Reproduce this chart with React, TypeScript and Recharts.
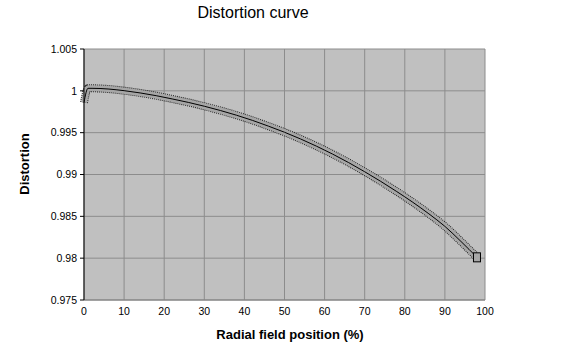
import { LineChart, Line, XAxis, YAxis, CartesianGrid } from 'recharts';

// radial field position (%) and measured distortion
const positions = [0, 1, 2, 4, 6, 8, 10, 14, 18, 22, 26, 30, 34, 38, 42, 46, 50, 54, 58, 62, 66, 70, 74, 78, 82, 86, 90, 94, 98];
const distortion = [
  0.9986, 1.0003, 1.0003, 1.00028, 1.00022, 1.00013, 1.00002, 0.99975, 0.99942, 0.99903,
  0.99862, 0.99816, 0.99765, 0.99709, 0.99647, 0.99578, 0.99505, 0.99425, 0.99338, 0.99244,
  0.99142, 0.99033, 0.98918, 0.98796, 0.98668, 0.9853, 0.9838, 0.982, 0.9801,
];
const xTicks = [0, 10, 20, 30, 40, 50, 60, 70, 80, 90, 100];
const yTicks = [0.975, 0.98, 0.985, 0.99, 0.995, 1, 1.005];

const data = positions.map((x, i) => ({ x, d: distortion[i] }));

const font = "Arial, 'Liberation Sans', sans-serif";

// square marker at the end of the curve
const EndDot = (props: any) => {
  const { cx, cy, index } = props;
  if (index !== data.length - 1) return <g key={index} />;
  return <rect key={index} x={cx - 3.5} y={cy - 4.5} width={7} height={9} fill="#a8a8a8" stroke="#000" strokeWidth={1} />;
};

export default function App() {
  return (
    <div style={{ position: 'fixed', left: 0, top: 0, width: 580, height: 352, background: '#fff', fontFamily: font }}>
      <div style={{ position: 'absolute', left: 0, width: 506, top: 4, textAlign: 'center', fontSize: 16, color: '#000' }}>
        Distortion curve
      </div>
      <div
        style={{
          position: 'absolute', left: 24, top: 164, transform: 'translate(-50%, -50%) rotate(-90deg)',
          fontSize: 13, fontWeight: 'bold', whiteSpace: 'nowrap',
        }}
      >
        Distortion
      </div>
      <div style={{ position: 'absolute', left: 290, top: 334, transform: 'translate(-50%, -50%)', fontSize: 13, fontWeight: 'bold', whiteSpace: 'nowrap' }}>
        Radial field position (%)
      </div>
      <LineChart
        width={580}
        height={352}
        data={data}
        margin={{ top: 49, right: 95, left: 24, bottom: 32 }}
        style={{ position: 'absolute', left: 0, top: 0 }}
      >
        <CartesianGrid stroke="#8c8c8c" fill="#c0c0c0" strokeWidth={1} />
        <XAxis
          dataKey="x"
          type="number"
          domain={[0, 100]}
          ticks={xTicks}
          interval={0}
          tickLine={false}
          axisLine={{ stroke: '#808080' }}
          tick={{ fill: '#000', fontSize: 10.5, fontFamily: font }}
          height={20}
          tickMargin={2}
        />
        <YAxis
          type="number"
          domain={[0.975, 1.005]}
          ticks={yTicks}
          interval={0}
          width={60}
          axisLine={{ stroke: '#000' }}
          tickLine={{ stroke: '#000' }}
          tickSize={4}
          tick={{ fill: '#000', fontSize: 10.5, fontFamily: font }}
          tickMargin={3}
          allowDataOverflow
        />
        <Line dataKey="d" type="monotone" stroke="#222" strokeWidth={8} strokeDasharray="1 1" dot={false} isAnimationActive={false} />
        <Line dataKey="d" type="monotone" stroke="#a6a6a6" strokeWidth={6} dot={false} isAnimationActive={false} />
        <Line dataKey="d" type="monotone" stroke="#000" strokeWidth={1} dot={EndDot} activeDot={false} isAnimationActive={false} />
      </LineChart>
    </div>
  );
}
